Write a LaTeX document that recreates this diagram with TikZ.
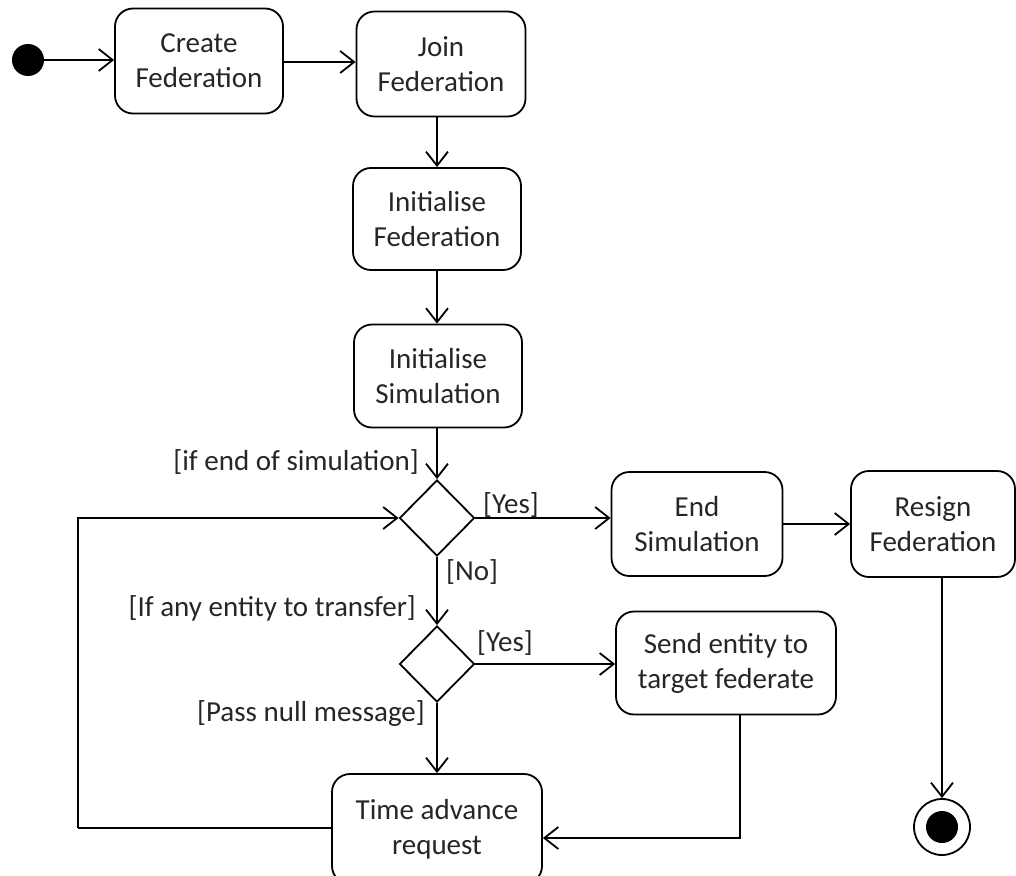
\documentclass[tikz,border=0pt]{standalone}
\usepackage{fontspec}
\setmainfont{Carlito}
\usetikzlibrary{arrows.meta,shapes.geometric}
\begin{document}
\begin{tikzpicture}[x=1pt,y=-1pt,
  every node/.style={font=\fontsize{29}{35}\selectfont, text=black!85},
  act/.style={draw, line width=1.8pt, rounded corners=18pt, align=center, inner sep=0pt},
  choice/.style={draw, line width=1.8pt, diamond, minimum width=75pt, minimum height=76pt, inner sep=0pt},
  arr/.style={line width=1.8pt, -{Straight Barb[length=14pt,width=22pt,line width=1.8pt]}},
  ln/.style={line width=1.8pt},
  guard/.style={inner sep=0pt}]
\useasboundingbox (0,0) rectangle (1016,875);

% initial and final states
\node[circle, fill=black, minimum size=32pt, inner sep=0pt] (start) at (28,60) {};
\node[circle, draw, line width=1.8pt, minimum size=56pt, inner sep=0pt] (final) at (942,827) {};
\node[circle, fill=black, minimum size=32pt, inner sep=0pt] at (final) {};

% actions
\node[act, minimum width=168pt, minimum height=105pt] (create) at (199,61) {Create\\Federation};
\node[act, minimum width=169pt, minimum height=105pt] (join) at (441,64) {Join\\Federation};
\node[act, minimum width=168pt, minimum height=102pt] (initfed) at (437,219) {Initialise\\Federation};
\node[act, minimum width=168pt, minimum height=103pt] (initsim) at (438,376) {Initialise\\Simulation};
\node[act, minimum width=171pt, minimum height=104pt] (endsim) at (697,524) {End\\Simulation};
\node[act, minimum width=164pt, minimum height=106pt] (resign) at (933,524) {Resign\\Federation};
\node[act, minimum width=220pt, minimum height=103pt] (send) at (726,663) {Send entity to\\target federate};
\node[act, minimum width=210pt, minimum height=110pt] (tar) at (437,829) {Time advance\\request};

% decisions
\node[choice] (d1) at (437,518) {};
\node[choice] (d2) at (437,664) {};

% guards
\node[guard, anchor=east] (g1) at (419,462) {[if end of simulation]};
\node[guard, anchor=west] (g2) at (483,505) {[Yes]};
\node[guard, anchor=west] (g3) at (446,572) {[No]};
\node[guard, anchor=east] (g4) at (416,608) {[If any entity to transfer]};
\node[guard, anchor=west] (g5) at (477,643) {[Yes]};
\node[guard, anchor=east] (g6) at (425,714) {[Pass null message]};

% loop-back corner
\coordinate (back) at (78,828);

% flows
\draw[arr] (start) -- (start -| create.west);
\draw[arr] (create.east |- 0,62) -- (join.west |- 0,62);
\draw[arr] (join.south -| d1) -- (initfed.north -| d1);
\draw[arr] (initfed.south -| d1) -- (initsim.north -| d1);
\draw[arr] (initsim.south -| d1) -- (d1.north);
\draw[arr] (d1.east) -- (endsim.west |- d1);
\draw[arr] (endsim.east) -- (resign.west);
\draw[arr] (resign.south -| final) -- (final.north);
\draw[arr] (d1.south) -- (d2.north);
\draw[arr] (d2.east) -- (send.west |- d2);
\draw[arr] (d2.south) -- (tar.north);
\draw[arr] (send.south -| 740,0) |- (tar.east |- 0,838);
\draw[ln] (tar.west |- back) -- (back);
\draw[arr] (back) |- (d1.west);
\end{tikzpicture}
\end{document}
